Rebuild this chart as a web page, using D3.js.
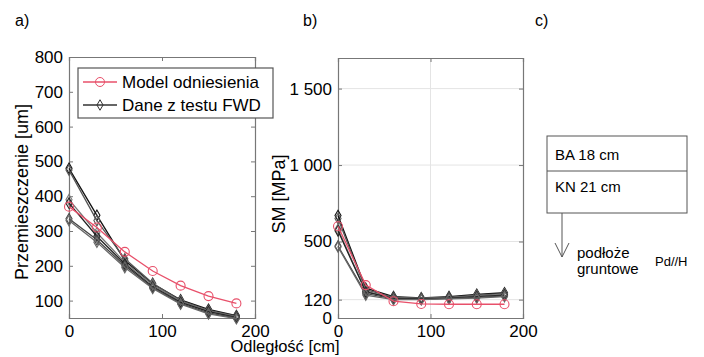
<!DOCTYPE html>
<html><head><meta charset="utf-8">
<script src="https://cdn.jsdelivr.net/npm/d3@7"></script>
<style>body{margin:0;background:#fff}svg{display:block;font-family:Arial,"Liberation Sans",sans-serif}</style>
</head><body><svg id="c" width="704" height="357"></svg>
<script>
const distances = [0, 30, 60, 90, 120, 150, 180];
// Chart a: displacement [um]
const modelDisp = [370, 310, 240, 185, 143, 113, 92];
const fwdDisp = [
  [480, 345, 215, 148, 102, 75, 57],
  [475, 330, 220, 150, 100, 72, 55],
  [390, 295, 210, 145, 98, 70, 53],
  [380, 285, 205, 140, 95, 68, 52],
  [335, 275, 200, 138, 92, 65, 50],
  [330, 268, 195, 135, 90, 62, 48]
];
// Chart b: SM [MPa]
const modelSM = [600, 215, 110, 92, 90, 90, 90];
const fwdSM = [
  [670, 195, 140, 132, 140, 155, 165],
  [650, 185, 135, 130, 135, 150, 160],
  [580, 175, 130, 128, 132, 145, 155],
  [570, 170, 128, 125, 130, 140, 150],
  [470, 160, 125, 122, 128, 135, 145],
  [465, 150, 120, 120, 125, 130, 140]
];
const xTicks = [0, 100, 200];
const yTicksA = [100, 200, 300, 400, 500, 600, 700, 800];
const yTicksB = [0, 120, 500, 1000, 1500];
const legendLabels = ["Model odniesienia", "Dane z testu FWD"];
const layers = ["BA 18 cm", "KN 21 cm"];

const fwdColors = ["#111", "#555", "#777", "#222", "#444", "#666"];
const red = "#e8506a";
const svg = d3.select("#c");

function panel(x0, x1, y0, y1, xDom, yDom, yTicks, yFmt, grid) {
  const x = d3.scaleLinear().domain(xDom).range([x0, x1]);
  const y = d3.scaleLinear().domain(yDom).range([y1, y0]);
  const g = svg.append("g");
  if (grid) {
    g.selectAll(".gx").data(xTicks.slice(1, -1)).join("line")
      .attr("x1", d => x(d)).attr("x2", d => x(d)).attr("y1", y0).attr("y2", y1)
      .attr("stroke", "#e4e4e4");
    g.selectAll(".gy").data(yTicks.filter(d => d > yDom[0])).join("line")
      .attr("y1", d => y(d)).attr("y2", d => y(d)).attr("x1", x0).attr("x2", x1)
      .attr("stroke", "#e4e4e4");
  }
  const fs = "17px";
  const ax = g.append("g").attr("transform", `translate(0,${y1})`)
    .call(d3.axisBottom(x).tickValues(xTicks).tickSize(-4).tickPadding(7));
  const axT = g.append("g").attr("transform", `translate(0,${y0})`)
    .call(d3.axisTop(x).tickValues(xTicks).tickSize(-4).tickFormat(""));
  const ay = g.append("g").attr("transform", `translate(${x0},0)`)
    .call(d3.axisLeft(y).tickValues(yTicks).tickSize(-4).tickPadding(6).tickFormat(yFmt));
  const ayR = g.append("g").attr("transform", `translate(${x1},0)`)
    .call(d3.axisRight(y).tickValues(yTicks).tickSize(-4).tickFormat(""));
  [ax, axT, ay, ayR].forEach(a => {
    a.selectAll("path").attr("stroke", "#777").attr("stroke-width", 1.2);
    a.selectAll("line").attr("stroke", "#777");
    a.selectAll("text").attr("font-size", fs).attr("fill", "#000").attr("font-family", "Arial, 'Liberation Sans', sans-serif");
  });
  return {x, y, g};
}

function drawSeries(p, data, color, shape) {
  const line = d3.line().x((d, i) => p.x(distances[i])).y(d => p.y(d));
  p.g.append("path").datum(data).attr("d", line).attr("fill", "none")
    .attr("stroke", color).attr("stroke-width", 1.3);
  const sym = d3.symbol().type(d3.symbolDiamond).size(32);
  data.forEach((v, i) => {
    if (shape === "circle") {
      p.g.append("circle").attr("cx", p.x(distances[i])).attr("cy", p.y(v)).attr("r", 4.5)
        .attr("fill", "none").attr("stroke", color).attr("stroke-width", 1.1);
    } else {
      p.g.append("path").attr("d", sym).attr("transform", `translate(${p.x(distances[i])},${p.y(v)})`)
        .attr("fill", "none").attr("stroke", color).attr("stroke-width", 1.1);
    }
  });
}

// Panel a
const pa = panel(69, 255, 57, 318, [0, 200], [50, 800], yTicksA, d3.format("d"), false);
fwdDisp.forEach((s, k) => drawSeries(pa, s, fwdColors[k], "diamond"));
drawSeries(pa, modelDisp, red, "circle");

// Legend
const lg = svg.append("g");
lg.append("rect").attr("x", 78).attr("y", 68).attr("width", 195).attr("height", 50)
  .attr("fill", "#fff").attr("stroke", "#555").attr("stroke-width", 1.2);
[[red, "circle"], ["#333", "diamond"]].forEach(([c, sh], i) => {
  const yy = 82 + i * 23;
  lg.append("line").attr("x1", 83).attr("x2", 117).attr("y1", yy).attr("y2", yy).attr("stroke", c).attr("stroke-width", 1.3);
  if (sh === "circle") lg.append("circle").attr("cx", 100).attr("cy", yy).attr("r", 4.5).attr("fill", "none").attr("stroke", c);
  else lg.append("path").attr("d", d3.symbol().type(d3.symbolDiamond).size(32)).attr("transform", `translate(100,${yy})`).attr("fill", "none").attr("stroke", c);
  lg.append("text").attr("x", 122).attr("y", yy + 6).attr("font-size", "17px").attr("fill", "#000").text(legendLabels[i]);
});

// Panel b
const pb = panel(338, 523, 58, 318, [0, 200], [0, 1700], yTicksB,
  d => d >= 1000 ? (Math.floor(d / 1000) + " " + String(d % 1000).padStart(3, "0")) : String(d), true);
fwdSM.forEach((s, k) => drawSeries(pb, s, fwdColors[k], "diamond"));
drawSeries(pb, modelSM, red, "circle");

// Axis titles
svg.append("text").attr("transform", "translate(28,192) rotate(-90)").attr("text-anchor", "middle")
  .attr("font-size", "18px").attr("fill", "#000").text("Przemieszczenie [um]");
svg.append("text").attr("transform", "translate(285,194) rotate(-90)").attr("text-anchor", "middle")
  .attr("font-size", "18px").attr("fill", "#000").text("SM [MPa]");
svg.append("text").attr("x", 285).attr("y", 352).attr("text-anchor", "middle")
  .attr("font-size", "16.5px").attr("fill", "#000").text("Odległość [cm]");

// Panel letters
[["a)", 15], ["b)", 303], ["c)", 535]].forEach(([t, xx]) =>
  svg.append("text").attr("x", xx).attr("y", 26).attr("font-size", "16px").attr("fill", "#000").text(t));

// Panel c: layer diagram
const c = svg.append("g");
c.append("rect").attr("x", 547).attr("y", 136).attr("width", 140).attr("height", 77)
  .attr("fill", "#fff").attr("stroke", "#555").attr("stroke-width", 1);
c.append("line").attr("x1", 547).attr("x2", 687).attr("y1", 171).attr("y2", 171).attr("stroke", "#555");
layers.forEach((t, i) => c.append("text").attr("x", 555).attr("y", 160 + i * 32)
  .attr("font-size", "15px").attr("fill", "#000").text(t));
c.append("line").attr("x1", 562).attr("x2", 562).attr("y1", 213).attr("y2", 257).attr("stroke", "#555");
c.append("path").attr("d", "M555,243 L562,257 L569,243").attr("fill", "none").attr("stroke", "#555");
c.append("text").attr("x", 577).attr("y", 258).attr("font-size", "15px").attr("fill", "#000").text("podłoże");
c.append("text").attr("x", 577).attr("y", 274).attr("font-size", "15px").attr("fill", "#000").text("gruntowe");
c.append("text").attr("x", 655).attr("y", 266).attr("font-size", "13px").attr("fill", "#000").text("Pd//H");
</script></body></html>
